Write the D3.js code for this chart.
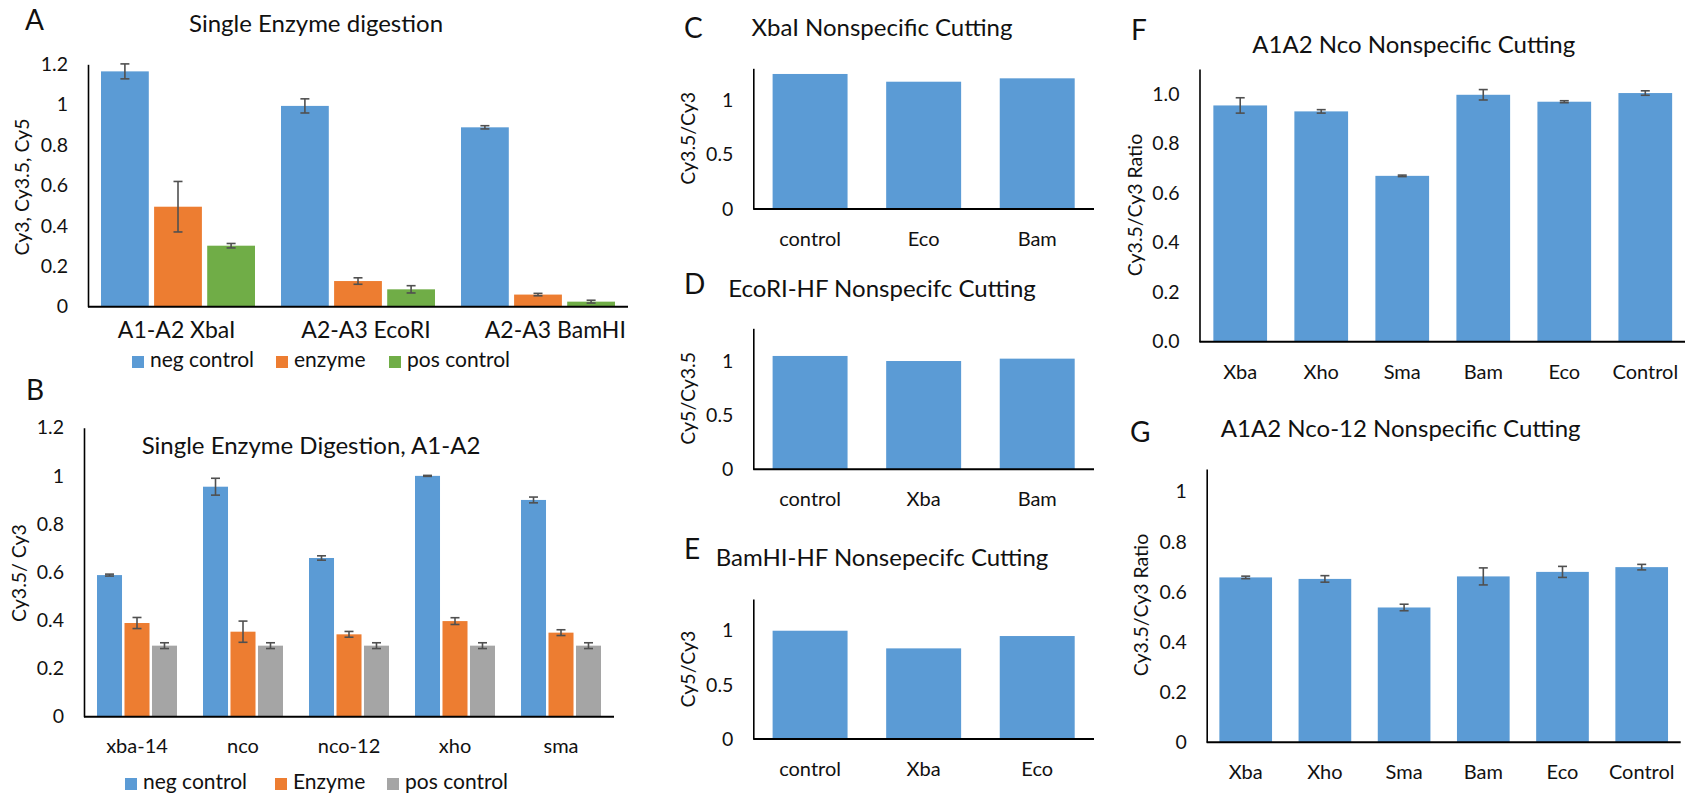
<!DOCTYPE html>
<html><head><meta charset="utf-8">
<script src="https://cdn.jsdelivr.net/npm/d3@7"></script>
<style>
html,body{margin:0;padding:0;background:#fff;}
svg{display:block;font-family:Lato,'Open Sans',sans-serif;}
</style></head><body>
<svg id="chart" width="1685" height="794"></svg>
<script>
// ---------- DATA ----------
// Panel A
const aCategories = ["A1-A2 XbaI", "A2-A3 EcoRI", "A2-A3 BamHI"];
const aSeriesNames = ["neg control", "enzyme", "pos control"];
const aNegControl = [1.165, 0.994, 0.888];
const aNegControlErr = [0.037, 0.035, 0.008];
const aEnzyme = [0.495, 0.127, 0.060];
const aEnzymeErr = [0.125, 0.016, 0.006];
const aPosControl = [0.302, 0.086, 0.025];
const aPosControlErr = [0.011, 0.018, 0.007];
const aTicks = [0, 0.2, 0.4, 0.6, 0.8, 1, 1.2];

// Panel B
const bCategories = ["xba-14", "nco", "nco-12", "xho", "sma"];
const bSeriesNames = ["neg control", "Enzyme", "pos control"];
const bNegControl = [0.588, 0.955, 0.659, 1.0, 0.900];
const bNegControlErr = [0.004, 0.035, 0.009, 0.002, 0.012];
const bEnzyme = [0.389, 0.353, 0.342, 0.397, 0.349];
const bEnzymeErr = [0.023, 0.044, 0.012, 0.014, 0.012];
const bPosControl = [0.295, 0.295, 0.295, 0.295, 0.295];
const bPosControlErr = [0.012, 0.012, 0.012, 0.012, 0.012];
const bTicks = [0, 0.2, 0.4, 0.6, 0.8, 1, 1.2];

// Panel C
const cCategories = ["control", "Eco", "Bam"];
const cValues = [1.239, 1.168, 1.199];
// Panel D
const dCategories = ["control", "Xba", "Bam"];
const dValues = [1.053, 1.006, 1.028];
// Panel E
const eCategories = ["control", "Xba", "Eco"];
const eValues = [1.0, 0.837, 0.951];
const cdeTicks = [0, 0.5, 1];

// Panel F
const fCategories = ["Xba", "Xho", "Sma", "Bam", "Eco", "Control"];
const fValues = [0.953, 0.929, 0.669, 0.996, 0.968, 1.003];
const fErr = [0.031, 0.007, 0.003, 0.021, 0.004, 0.009];
const fTicks = [0, 0.2, 0.4, 0.6, 0.8, 1.0];

// Panel G
const gCategories = ["Xba", "Xho", "Sma", "Bam", "Eco", "Control"];
const gValues = [0.658, 0.652, 0.538, 0.662, 0.680, 0.699];
const gErr = [0.005, 0.013, 0.013, 0.034, 0.022, 0.011];
const gTicks = [0, 0.2, 0.4, 0.6, 0.8, 1];

// ---------- STYLE ----------
const BLUE = "#5B9BD5", ORANGE = "#ED7D31", GREEN = "#70AD47", GREY = "#A5A5A5";
const TXT = "#111";
const svg = d3.select("#chart");

function drawPanel(cfg) {
  const g = svg.append("g");
  const x0 = d3.scaleBand().domain(cfg.categories).range([cfg.left, cfg.right])
    .paddingInner(cfg.padIn || 0).paddingOuter(cfg.padOut || 0);
  const y = d3.scaleLinear().domain([0, cfg.ymax]).range([cfg.bottom, cfg.top]);
  let x1 = null;
  if (cfg.series.length > 1) {
    x1 = d3.scaleBand().domain(cfg.series.map(s => s.name))
      .range([cfg.groupPad, x0.bandwidth() - cfg.groupPad]).paddingInner(cfg.barGap);
  }
  const bw = x1 ? x1.bandwidth() : x0.bandwidth();
  cfg.series.forEach(s => {
    const data = cfg.categories.map((c, i) => ({cat: c, v: s.values[i], e: s.errors ? s.errors[i] : null}));
    const bx = d => x0(d.cat) + (x1 ? x1(s.name) : 0);
    g.append("g").selectAll("rect").data(data).join("rect")
      .attr("x", bx).attr("width", bw)
      .attr("y", d => y(d.v)).attr("height", d => y(0) - y(d.v))
      .attr("fill", s.color);
    if (s.errors) {
      const eg = g.append("g").attr("stroke", "#505050").attr("stroke-width", 1.6).attr("fill", "none");
      const cap = 4.5;
      data.forEach(d => {
        const cx = bx(d) + bw / 2;
        const y1 = y(d.v + d.e), y2 = y(d.v - d.e);
        eg.append("line").attr("x1", cx).attr("x2", cx).attr("y1", y1).attr("y2", y2);
        eg.append("line").attr("x1", cx - cap).attr("x2", cx + cap).attr("y1", y1).attr("y2", y1);
        eg.append("line").attr("x1", cx - cap).attr("x2", cx + cap).attr("y1", y2).attr("y2", y2);
      });
    }
  });
  // y axis
  const ya = g.append("g").attr("transform", `translate(${cfg.left},0)`)
    .call(d3.axisLeft(y).tickValues(cfg.ticks).tickFormat(cfg.fmt).tickSize(0).tickSizeOuter(0).tickPadding(cfg.tickPad || 20));
  ya.select(".domain").attr("stroke", "#000").attr("stroke-width", 1.6);
  ya.selectAll("text").attr("font-size", 19.5).attr("fill", TXT).attr("font-family", "Lato");
  // x axis line
  g.append("line").attr("x1", cfg.left).attr("x2", cfg.right).attr("y1", y(0)).attr("y2", y(0))
    .attr("stroke", "#000").attr("stroke-width", 2);
  // x labels
  const xl = cfg.labelRange ? d3.scaleBand().domain(cfg.categories).range(cfg.labelRange) : x0;
  const xa = g.append("g").attr("transform", `translate(0,${y(0)})`)
    .call(d3.axisBottom(xl).tickSize(0).tickSizeOuter(0));
  xa.select(".domain").remove();
  xa.selectAll("text").attr("dy", null).attr("y", cfg.labelOffset)
    .attr("font-size", cfg.labelSize).attr("fill", TXT).attr("font-family", "Lato");
  // y title
  g.append("text").attr("transform", `translate(${cfg.ytX},${cfg.ytY}) rotate(-90)`)
    .attr("text-anchor", "middle").attr("dominant-baseline", "central")
    .attr("font-size", cfg.ytSize || 19.5).attr("fill", TXT).text(cfg.yTitle);
  // title
  g.append("text").attr("x", cfg.titleX).attr("y", cfg.titleY).attr("text-anchor", "middle")
    .attr("font-size", 24).attr("fill", TXT).text(cfg.title);
  // panel letter
  g.append("text").attr("x", cfg.letterX).attr("y", cfg.letterY)
    .attr("font-size", 28).attr("fill", TXT).text(cfg.letter);
  // legend
  if (cfg.legend) {
    const lg = g.append("g");
    cfg.series.forEach((s, i) => {
      const lx = cfg.legend.xs[i];
      lg.append("rect").attr("x", lx).attr("y", cfg.legend.y - 11).attr("width", 12).attr("height", 12).attr("fill", s.color);
      lg.append("text").attr("x", lx + 18).attr("y", cfg.legend.y).attr("font-size", 21).attr("fill", TXT).text(s.name);
    });
  }
}

const fmtG = d3.format("~g");

// Panel A
drawPanel({
  letter: "A", letterX: 25, letterY: 30,
  title: "Single Enzyme digestion", titleX: 316, titleY: 32,
  categories: aCategories,
  series: [
    {name: aSeriesNames[0], values: aNegControl, errors: aNegControlErr, color: BLUE},
    {name: aSeriesNames[1], values: aEnzyme, errors: aEnzymeErr, color: ORANGE},
    {name: aSeriesNames[2], values: aPosControl, errors: aPosControlErr, color: GREEN}
  ],
  left: 88, right: 628, top: 64.3, bottom: 306.7, ymax: 1.2, ticks: aTicks, fmt: fmtG,
  groupPad: 13, barGap: 0.1,
  labelRange: [82, 650], labelOffset: 31, labelSize: 23,
  yTitle: "Cy3, Cy3.5, Cy5", ytX: 21, ytY: 187,
  legend: {y: 367, xs: [132, 276, 389]}
});

// Panel B
drawPanel({
  letter: "B", letterX: 26, letterY: 400,
  title: "Single Enzyme Digestion, A1-A2", titleX: 311, titleY: 454,
  categories: bCategories,
  series: [
    {name: bSeriesNames[0], values: bNegControl, errors: bNegControlErr, color: BLUE},
    {name: bSeriesNames[1], values: bEnzyme, errors: bEnzymeErr, color: ORANGE},
    {name: bSeriesNames[2], values: bPosControl, errors: bPosControlErr, color: GREY}
  ],
  left: 84, right: 614, top: 427.7, bottom: 716.7, ymax: 1.2, ticks: bTicks, fmt: fmtG,
  groupPad: 13, barGap: 0.09,
  labelOffset: 36.5, labelSize: 20,
  yTitle: "Cy3.5/ Cy3", ytX: 18.5, ytY: 573,
  legend: {y: 789, xs: [125, 275, 387]}
});

// Panels C, D, E
const cdeCommon = {left: 753.3, right: 1094, padIn: 0.34, padOut: 0.17, ticks: cdeTicks, fmt: fmtG,
  labelOffset: 37, labelSize: 20, ytX: 687, letterX: 684};
drawPanel(Object.assign({}, cdeCommon, {
  letter: "C", letterY: 38,
  title: "XbaI Nonspecific Cutting", titleX: 882, titleY: 35.5,
  categories: cCategories, series: [{name: "value", values: cValues, color: BLUE}],
  top: 68.3, bottom: 209, ymax: 1.291,
  yTitle: "Cy3.5/Cy3", ytY: 138.3
}));
drawPanel(Object.assign({}, cdeCommon, {
  letter: "D", letterY: 294,
  title: "EcoRI-HF Nonspecifc Cutting", titleX: 882, titleY: 296.5,
  categories: dCategories, series: [{name: "value", values: dValues, color: BLUE}],
  top: 328.3, bottom: 469.3, ymax: 1.310,
  yTitle: "Cy5/Cy3.5", ytY: 398.3
}));
drawPanel(Object.assign({}, cdeCommon, {
  letter: "E", letterY: 559,
  title: "BamHI-HF Nonsepecifc Cutting", titleX: 882, titleY: 566,
  categories: eCategories, series: [{name: "value", values: eValues, color: BLUE}],
  top: 599, bottom: 739, ymax: 1.293,
  yTitle: "Cy5/Cy3", ytY: 669
}));

// Panel F
drawPanel({
  letter: "F", letterX: 1131, letterY: 40,
  title: "A1A2 Nco Nonspecific Cutting", titleX: 1413.7, titleY: 53.3,
  categories: fCategories,
  series: [{name: "value", values: fValues, errors: fErr, color: BLUE}],
  left: 1199.5, right: 1686, padIn: 0.337, padOut: 0.171,
  top: 69, bottom: 341.7, ymax: 1.1, ticks: fTicks, fmt: d3.format(".1f"),
  labelOffset: 37, labelSize: 20,
  yTitle: "Cy3.5/Cy3 Ratio", ytX: 1134.7, ytY: 205
});

// Panel G
drawPanel({
  letter: "G", letterX: 1130, letterY: 441.7,
  title: "A1A2 Nco-12 Nonspecific Cutting", titleX: 1400.7, titleY: 436.7,
  categories: gCategories,
  series: [{name: "value", values: gValues, errors: gErr, color: BLUE}],
  left: 1206.7, right: 1680.7, padIn: 0.335, padOut: 0.16,
  top: 469, bottom: 742.3, ymax: 1.0906, ticks: gTicks, fmt: fmtG,
  labelOffset: 37, labelSize: 20,
  yTitle: "Cy3.5/Cy3 Ratio", ytX: 1140, ytY: 605
});
</script>
</body></html>
